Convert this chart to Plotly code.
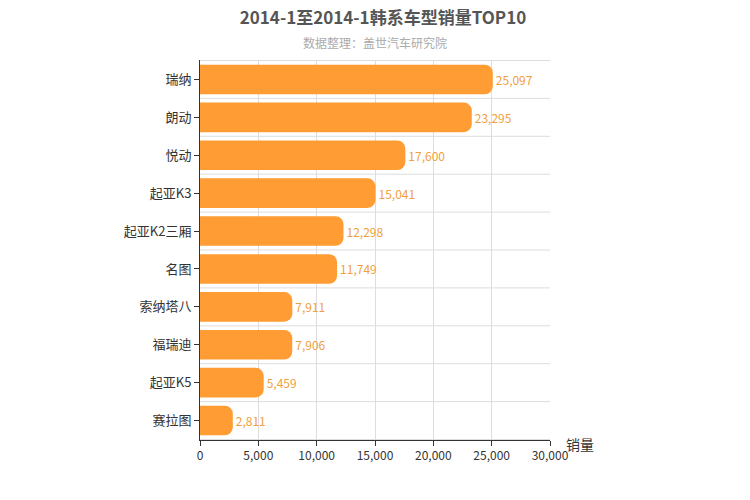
import plotly.graph_objects as go

categories = ["瑞纳", "朗动", "悦动", "起亚K3", "起亚K2三厢", "名图", "索纳塔八", "福瑞迪", "起亚K5", "赛拉图"]
values = [25097, 23295, 17600, 15041, 12298, 11749, 7911, 7906, 5459, 2811]

font = "Noto Sans CJK SC"
fig = go.Figure(go.Bar(
    y=categories, x=values, orientation="h",
    marker=dict(color="#ff9c33", cornerradius=8, line=dict(width=0)),
    width=0.78,
    text=[f"{v:,}" for v in values], textposition="outside",
    textfont=dict(color="#f0a040", size=12, family=font), cliponaxis=False,
))
shapes = [dict(type="line", xref="paper", x0=0, x1=1, yref="y", y0=i + 0.5, y1=i + 0.5,
               line=dict(color="#dddddd", width=1), layer="below") for i in range(-1, len(categories))]
fig.update_layout(
    width=750, height=500, plot_bgcolor="white", paper_bgcolor="white",
    margin=dict(l=192, r=208, t=52, b=68), showlegend=False, shapes=shapes,
    font=dict(family=font, color="#333"),
    title=dict(text="<b>2014-1至2014-1韩系车型销量TOP10</b>", x=0.5, y=0.98, yanchor="middle", xanchor="center",
               font=dict(size=17, color="#555", family=font)),
    annotations=[
        dict(text="数据整理：盖世汽车研究院", x=0.5, y=1.045, xref="paper", yref="paper", showarrow=False,
             yanchor="middle", font=dict(size=12, color="#aaa")),
        dict(text="销量", xref="paper", yref="paper", x=1.04, y=-0.01, xanchor="left", yanchor="middle",
             showarrow=False, font=dict(size=14, color="#333")),
    ],
    xaxis=dict(range=[0, 30000], dtick=5000, tickformat=",", showgrid=True, gridcolor="#dddddd",
               showline=True, linecolor="#333", ticks="outside", ticklen=5, tickcolor="#333",
               tickfont=dict(size=12, color="#333"), zeroline=False),
    yaxis=dict(autorange="reversed", showline=True, linecolor="#333", ticks="outside", ticklen=5,
               tickcolor="#333", tickfont=dict(size=13, color="#333"), showgrid=False),
)
fig.write_html("out.html")
